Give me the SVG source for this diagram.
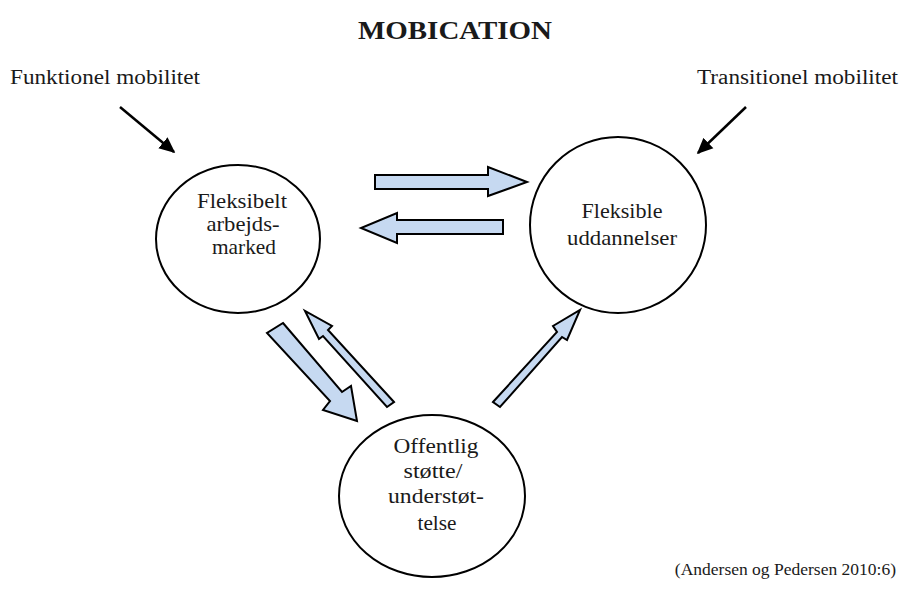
<svg xmlns="http://www.w3.org/2000/svg" width="910" height="589" viewBox="0 0 910 589">
  <defs>
    <marker id="head" viewBox="0 0 10 10" refX="9" refY="5" markerWidth="16" markerHeight="16" markerUnits="userSpaceOnUse" orient="auto">
      <path d="M0,0.5 L10,5 L0,9.5 z" fill="#000"/>
    </marker>
    <style>
      text { font-family: "Liberation Serif", "DejaVu Serif", serif; fill: #1a1a1a; }
      .title { font-size: 26px; font-weight: bold; }
      .lbl { font-size: 20px; }
      .cite { font-size: 17.5px; }
      .node ellipse { fill: #fff; stroke: #000; stroke-width: 2; }
      .node text { font-size: 21px; text-anchor: middle; }
      .block { fill: #c6d9f1; stroke: #000; stroke-width: 2; stroke-linejoin: miter; }
      .line { stroke: #000; stroke-width: 2.5; fill: none; }
    </style>
  </defs>

  <rect width="910" height="589" fill="#fff"/>

  <text class="title" x="455" y="39" text-anchor="middle" textLength="194" lengthAdjust="spacingAndGlyphs">MOBICATION</text>
  <text class="lbl" x="10" y="84" textLength="190" lengthAdjust="spacingAndGlyphs">Funktionel mobilitet</text>
  <text class="lbl" x="697" y="84" textLength="201" lengthAdjust="spacingAndGlyphs">Transitionel mobilitet</text>

  <g id="labor-market" class="node">
    <ellipse cx="238" cy="239" rx="82" ry="74"/>
    <text x="242" y="208" textLength="90" lengthAdjust="spacingAndGlyphs">Fleksibelt</text>
    <text x="243" y="231" textLength="73" lengthAdjust="spacingAndGlyphs">arbejds-</text>
    <text x="244" y="254" textLength="64" lengthAdjust="spacingAndGlyphs">marked</text>
  </g>

  <g id="education" class="node">
    <ellipse cx="618" cy="225" rx="88" ry="88"/>
    <text x="622" y="218" textLength="81" lengthAdjust="spacingAndGlyphs">Fleksible</text>
    <text x="622" y="245" textLength="110" lengthAdjust="spacingAndGlyphs">uddannelser</text>
  </g>

  <g id="public-support" class="node">
    <ellipse cx="432" cy="496" rx="93" ry="81"/>
    <text x="436" y="453" textLength="85" lengthAdjust="spacingAndGlyphs">Offentlig</text>
    <text x="433" y="478" textLength="59" lengthAdjust="spacingAndGlyphs">støtte/</text>
    <text x="436" y="503" textLength="96" lengthAdjust="spacingAndGlyphs">understøt-</text>
    <text x="437" y="530" textLength="39" lengthAdjust="spacingAndGlyphs">telse</text>
  </g>

  <g id="connectors">
    <line class="line" x1="120" y1="107" x2="174" y2="152" marker-end="url(#head)"/>
    <line class="line" x1="746" y1="107" x2="698" y2="153" marker-end="url(#head)"/>

    <polygon class="block" points="375,175 488,175 488,167 527,182 488,196 488,189 375,189"/>
    <polygon class="block" points="503,220 397,220 397,213 361,228 397,243 397,234 503,234"/>

    <polygon class="block" points="283,323 342,392 351,386 357,421 323,410 330,401 267,333"/>
    <polygon class="block" points="394,402 328,330 332,326 305,311 319,339 323,336 387,407"/>
    <polygon class="block" points="493,402 557,332 553,326 580,310 567,340 562,337 500,407"/>
  </g>

  <text class="cite" x="896" y="575" text-anchor="end">(Andersen og Pedersen 2010:6)</text>
</svg>
